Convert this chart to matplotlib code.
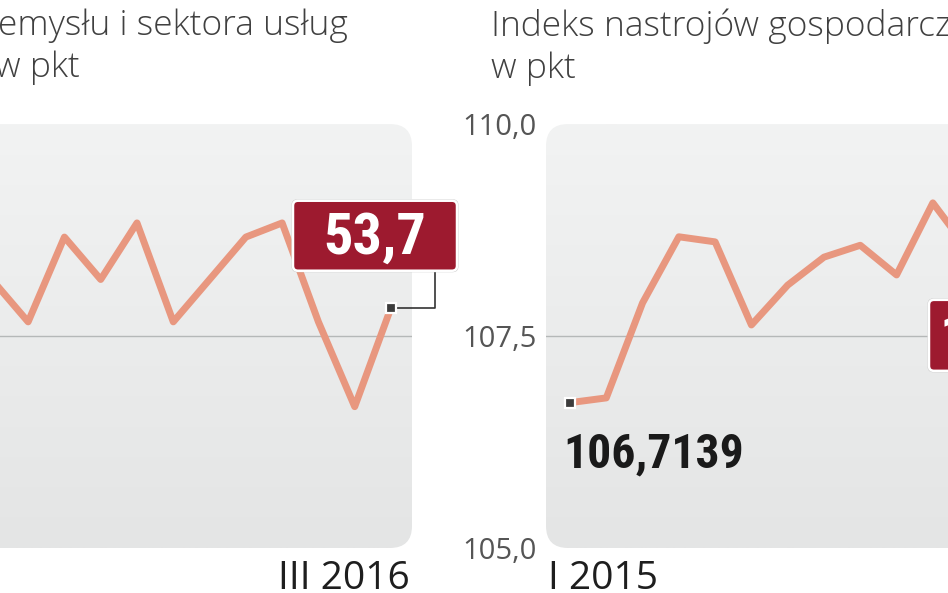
import numpy as np
import matplotlib.pyplot as plt
import matplotlib.patches as mpatches
import matplotlib.transforms as mtransforms
from matplotlib import font_manager
from matplotlib.lines import Line2D
from matplotlib.colors import LinearSegmentedColormap

# data: Jan 2015 - Mar 2016
months = ["I 2015", "II", "III", "IV", "V", "VI", "VII", "VIII", "IX", "X",
          "XI", "XII", "I 2016", "II", "III 2016"]
pmi = [52.6, 53.3, 54.0, 53.9, 53.6, 54.2, 53.9, 54.3, 53.6, 53.9,
       54.2, 54.3, 53.6, 53.0, 53.7]
ifo = [106.7139, 106.77, 107.89, 108.67, 108.61, 107.63, 108.10, 108.43,
       108.57, 108.22, 109.07, 108.5, 107.3, 105.7, 106.7]
pmi_ticks = [52.0, 53.5, 55.0]
ifo_ticks = [105.0, 107.5, 110.0]
ifo_tick_labels = ["105,0", "107,5", "110,0"]

plt.rcParams['font.family'] = ['Open Sans', 'DejaVu Sans']


def pick_condensed():
    # look for a condensed bold face, else plain Liberation Sans
    fonts = font_manager.fontManager.ttflist
    for name in ["Liberation Sans Narrow", "Roboto Condensed", "Open Sans Condensed",
                 "Noto Sans Condensed", "DejaVu Sans Condensed"]:
        if any(f.name == name for f in fonts):
            return name, "normal"
    for name in ["Noto Sans", "Open Sans", "Roboto", "DejaVu Sans"]:
        for f in fonts:
            if f.name == name and str(f.stretch) in ("condensed", "semi-condensed", "extra-condensed"):
                return name, str(f.stretch)
    return "Liberation Sans", "normal"


NARROW, STRETCH = pick_condensed()

W, H = 948, 593
LINE = "#e8977f"
RED = "#9d1a2f"
TITLE = "#404040"
bg_cmap = LinearSegmentedColormap.from_list("bg", ["#e4e5e5", "#f2f3f3"])


def fx(px):
    return px / W


def fy(py):
    return 1 - py / H


fig = plt.figure(figsize=(W / 100, H / 100), dpi=100)
ax1 = fig.add_axes([fx(-141), fy(548), 553 / W, 424 / H])
ax2 = fig.add_axes([fx(546), fy(548), 553 / W, 424 / H])


def panel(ax, values, ticks):
    x = np.arange(len(values))
    bg = mpatches.FancyBboxPatch((0, 0), 1, 1, boxstyle="round,pad=0,rounding_size=0.04",
                                 mutation_aspect=553 / 424, transform=ax.transAxes,
                                 facecolor="none", edgecolor="none")
    ax.add_artist(bg)
    grad = np.linspace(1, 0, 256).reshape(-1, 1)
    im = ax.imshow(grad, cmap=bg_cmap, extent=(0, 1, 0, 1), transform=ax.transAxes,
                   aspect="auto", zorder=0)
    im.set_clip_path(bg)
    ax.set_xlim(-0.661, len(values) - 1 + 0.579)
    ax.set_ylim(ticks[0], ticks[-1])
    ax.axhline(ticks[1], color="#b5b8b8", lw=1, zorder=1)
    ax.plot(x, values, color=LINE, lw=5, zorder=2)
    ax.plot(x[[0, -1]], np.array(values)[[0, -1]], ls="none", marker="s", ms=7,
            mfc="#3c3c3c", mec="white", mew=1.6, zorder=6)
    for s in ax.spines.values():
        s.set_visible(False)
    ax.set_xticks([])
    ax.patch.set_visible(False)


def fit_width(t, target):
    r = fig.canvas.get_renderer()
    w = t.get_window_extent(r).width
    t.set_fontsize(t.get_fontsize() * target / w)


def value_box(ax, x, y, box, text, text_off, ha, connector=None):
    # box / offsets given in pixels relative to the data point
    trans = fig.dpi_scale_trans + mtransforms.ScaledTranslation(x, y, ax.transData)
    bx, by, bw, bh = [v / 100 for v in box]
    shadow = mpatches.FancyBboxPatch((bx - 0.015, by - 0.015), bw + 0.03, bh + 0.03,
                                     boxstyle="round,pad=0,rounding_size=0.06",
                                     fc="#c9c9c9", ec="none", transform=trans,
                                     clip_on=False, zorder=4)
    rect = mpatches.FancyBboxPatch((bx, by), bw, bh, boxstyle="round,pad=0,rounding_size=0.05",
                                   fc=RED, ec="white", lw=1.8, transform=trans,
                                   clip_on=False, zorder=5)
    ax.add_artist(shadow)
    ax.add_artist(rect)
    if connector is not None:
        cx, cy = connector[0] / 100, connector[1] / 100
        ax.add_artist(Line2D([0.04, cx, cx], [0, 0, cy], color="#333333", lw=1.2,
                             transform=trans, clip_on=False, zorder=3))
    return ax.annotate(text, xy=(x, y), xytext=text_off, textcoords="offset pixels",
                       ha=ha, va="baseline", color="white", fontsize=40, fontweight="bold",
                       family=[NARROW, "DejaVu Sans"], fontstretch=STRETCH,
                       zorder=7, annotation_clip=False)


panel(ax1, pmi, pmi_ticks)
panel(ax2, ifo, ifo_ticks)
ax1.set_yticks([])
ax2.set_yticks(ifo_ticks, ifo_tick_labels)
ax2.tick_params(axis="y", length=0, pad=6.5, labelsize=21, labelcolor="#555555")

# last value labels
n = len(months) - 1
t1 = value_box(ax1, n, pmi[-1], (-98, 37, 164, 70), "53,7", (-16, 54), "center",
               connector=(44, 37))
t2 = value_box(ax2, n, ifo[-1], (-149, 33, 150, 71), "106,7", (-138, 49), "left",
               connector=(30, 33))
fit_width(t1, 103)
t2.set_fontsize(t1.get_fontsize())

# first value label of right panel
t3 = ax2.annotate("106,7139", xy=(0, ifo[0]), xytext=(-7, -65), textcoords="offset pixels",
                  ha="left", va="baseline", fontsize=36, fontweight="bold",
                  family=[NARROW, "DejaVu Sans"], fontstretch=STRETCH,
                  color="#1a1a1a", zorder=7)
fit_width(t3, 181)

# period labels
ax1.text(0.996, -0.097, months[-1], transform=ax1.transAxes, ha="right", va="baseline",
         fontsize=28, color="#1e1e1e")
ax2.text(0.004, -0.097, months[0], transform=ax2.transAxes, ha="left", va="baseline",
         fontsize=28, color="#1e1e1e")

# titles
fig.text(fx(348), fy(35), "emysłu i sektora usług", ha="right", va="baseline",
         fontsize=25.5, color=TITLE, fontweight="light")
fig.text(fx(-5), fy(77), "w pkt", ha="left", va="baseline",
         fontsize=25.5, color=TITLE, fontweight="light")
fig.text(fx(491), fy(36), "Indeks nastrojów gospodarczych", ha="left", va="baseline",
         fontsize=25.5, color=TITLE, fontweight="light")
fig.text(fx(491), fy(78), "w pkt", ha="left", va="baseline",
         fontsize=25.5, color=TITLE, fontweight="light")

fig.savefig("out.png", dpi=100, facecolor="white")
